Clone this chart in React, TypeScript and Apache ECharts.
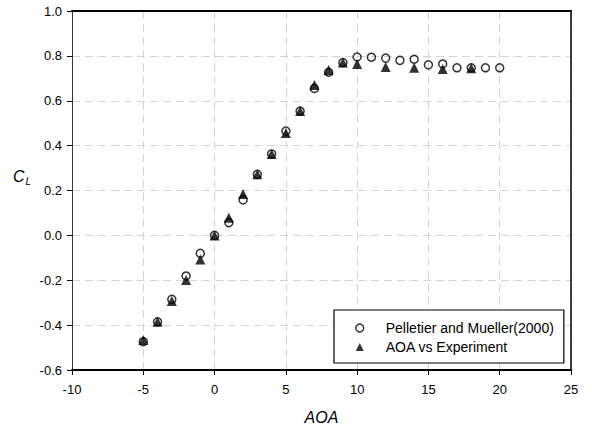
import React, { useEffect, useRef } from "react";
import * as echarts from "echarts";

const pelletierAoa = [-5, -4, -3, -2, -1, 0, 1, 2, 3, 4, 5, 6, 7, 8, 9, 10, 11, 12, 13, 14, 15, 16, 17, 18, 19, 20];
const pelletierCl = [-0.474, -0.385, -0.285, -0.181, -0.08, 0.0, 0.057, 0.158, 0.272, 0.363, 0.465, 0.554, 0.655, 0.727, 0.77, 0.795, 0.794, 0.79, 0.78, 0.785, 0.76, 0.764, 0.747, 0.747, 0.747, 0.747];
const experimentAoa = [-5, -4, -3, -2, -1, 0, 1, 2, 3, 4, 5, 6, 7, 8, 9, 10, 12, 14, 16, 18];
const experimentCl = [-0.466, -0.385, -0.292, -0.199, -0.107, 0.0, 0.079, 0.184, 0.272, 0.363, 0.456, 0.554, 0.67, 0.737, 0.77, 0.764, 0.75, 0.747, 0.742, 0.745];
const seriesNames = ["Pelletier and Mueller(2000)", "AOA vs Experiment"];

const FONT = "'Liberation Sans', Arial, sans-serif";
const gridLine = { show: true, lineStyle: { color: "#d4d4d4", type: [8, 5] as number[], width: 1 } };

export default function App() {
  const ref = useRef<HTMLDivElement>(null);
  useEffect(() => {
    if (!ref.current) return;
    const chart = echarts.init(ref.current, undefined, { renderer: "svg" });
    chart.setOption({
      animation: false,
      backgroundColor: "#fff",
      grid: { left: 72, top: 11, right: 21, bottom: 60, containLabel: false, outerBoundsMode: "none" },
      legend: {
        orient: "vertical",
        left: 334,
        top: 310,
        padding: [10, 10, 8, 21],
        itemGap: 3,
        itemWidth: 8,
        itemHeight: 8,
        borderColor: "#000",
        borderWidth: 1.2,
        backgroundColor: "#fff",
        textStyle: { fontFamily: FONT, fontSize: 14, lineHeight: 16, color: "#000", padding: [0, 0, 0, 17] },
        data: [
          { name: seriesNames[0], icon: "circle", itemStyle: { color: "#fff", borderColor: "#000", borderWidth: 1.5 } },
          { name: seriesNames[1], icon: "triangle", itemStyle: { color: "#000" } },
        ],
      },
      xAxis: [
        {
          type: "value",
          min: -10,
          max: 25,
          interval: 5,
          name: "AOA",
          nameLocation: "middle",
          nameGap: 39,
          nameTextStyle: { fontFamily: FONT, fontSize: 16, fontStyle: "italic", color: "#000" },
          axisLine: { onZero: false, lineStyle: { color: "#000", width: 2 } },
          axisTick: { show: true, length: 5, lineStyle: { color: "#000" } },
          axisLabel: { fontFamily: FONT, fontSize: 13, color: "#000", margin: 13 },
          splitLine: gridLine,
        },
        {
          type: "value",
          position: "top",
          min: -10,
          max: 25,
          interval: 5,
          axisLine: { show: true, onZero: false, lineStyle: { color: "#000", width: 2 } },
          axisTick: { show: false },
          axisLabel: { show: false },
          splitLine: { show: false },
        },
      ],
      yAxis: [
        {
          type: "value",
          min: -0.6,
          max: 1.0,
          interval: 0.2,
          axisLine: { onZero: false, lineStyle: { color: "#333", width: 1 } },
          axisTick: { show: true, length: 5, lineStyle: { color: "#000" } },
          axisLabel: {
            fontFamily: FONT,
            fontSize: 13,
            color: "#000",
            margin: 10,
            formatter: (v: number) => v.toFixed(1),
          },
          splitLine: gridLine,
        },
        {
          type: "value",
          position: "right",
          min: -0.6,
          max: 1.0,
          interval: 0.2,
          axisLine: { show: true, onZero: false, lineStyle: { color: "#000", width: 1.5 } },
          axisTick: { show: false },
          axisLabel: { show: false },
          splitLine: { show: false },
        },
      ],
      graphic: [
        {
          type: "text",
          left: 13,
          top: 168,
          style: {
            text: "{c|C}{l|L}",
            rich: {
              c: { fontFamily: FONT, fontSize: 16, fontStyle: "italic", fill: "#000" },
              l: { fontFamily: FONT, fontSize: 10, fontStyle: "italic", fill: "#000", padding: [10, 0, 0, 1] },
            },
          },
        },
      ],
      series: [
        {
          name: seriesNames[0],
          type: "scatter",
          symbol: "circle",
          symbolSize: 8,
          itemStyle: { color: "rgba(255,255,255,0)", borderColor: "#000", borderWidth: 1.5 },
          data: pelletierAoa.map((x, i) => [x, pelletierCl[i]]),
          z: 2,
        },
        {
          name: seriesNames[1],
          type: "scatter",
          symbol: "triangle",
          symbolSize: 10,
          itemStyle: { color: "#000" },
          data: experimentAoa.map((x, i) => [x, experimentCl[i]]),
          z: 3,
        },
      ],
    });
    return () => chart.dispose();
  }, []);
  return <div ref={ref} style={{ width: 592, height: 430, position: "absolute", left: 0, top: 0 }} />;
}
